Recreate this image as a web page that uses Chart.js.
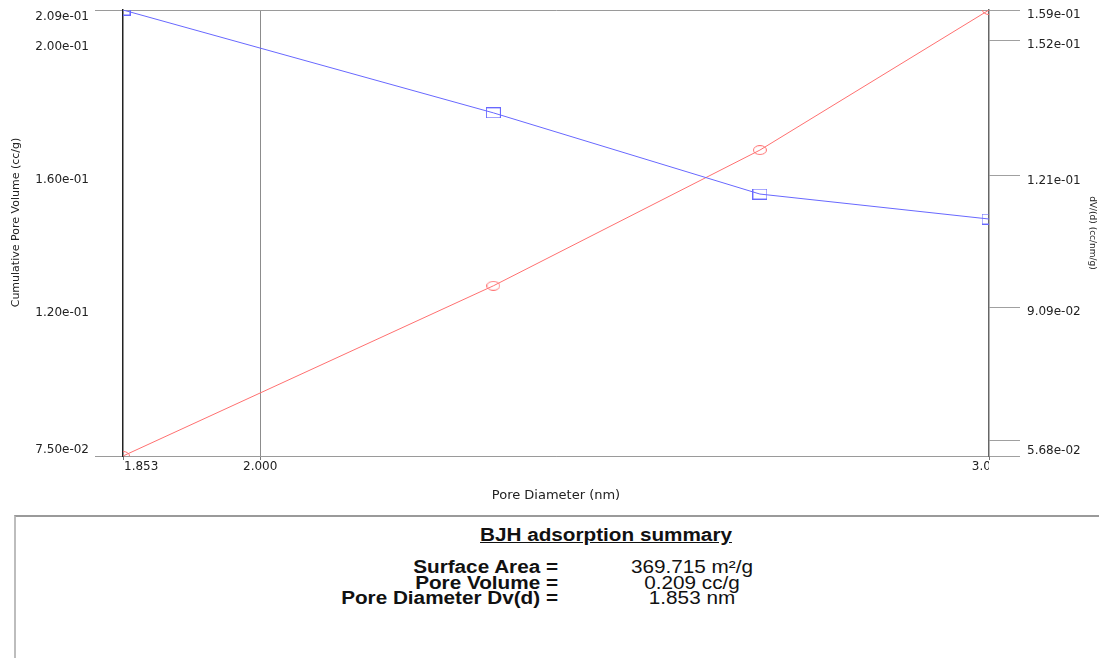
<!DOCTYPE html>
<html>
<head>
<meta charset="utf-8">
<script src="https://cdn.jsdelivr.net/npm/chart.js@4.4.0/dist/chart.umd.min.js"></script>
<style>
  html, body { margin: 0; padding: 0; background: #fff; }
  body { width: 1099px; height: 658px; position: relative; overflow: hidden; font-family: "Liberation Sans", Arial, sans-serif; }
  #chartWrap { position: absolute; left: 0; top: 0; width: 1099px; height: 510px; }
  #summary { position: absolute; left: 14px; top: 515px; width: 1083px; height: 200px;
             border-top: 2px solid #9a9a9a; border-left: 2px solid #bdbdbd; border-right: 1px solid #d0d0d0; }
  .stretch { position: absolute; white-space: nowrap; color: #111; font-size: 18px; }
  #sumTitle { left: 456px; width: 300px; top: 525px; line-height: 20px; text-align: center;
              font-weight: bold; text-decoration: underline; transform: scaleX(1.15); transform-origin: center; }
  #sumLabels { left: 258px; width: 300px; top: 560px; line-height: 15.5px; text-align: right;
               font-weight: bold; transform: scaleX(1.15); transform-origin: right; }
  #sumValues { left: 592px; width: 200px; top: 560px; line-height: 15.5px; text-align: center;
               transform: scaleX(1.15); transform-origin: center; }
</style>
</head>
<body>
<div id="chartWrap"><canvas id="bjhChart" width="1099" height="510"></canvas></div>
<div id="summary"></div>
<div id="sumTitle" class="stretch">BJH adsorption summary</div>
<div id="sumLabels" class="stretch"></div>
<div id="sumValues" class="stretch"></div>

<script>
// data
const poreDiameters = [1.853, 2.277, 2.641, 3.0];
const cumulativeVolume = [0.209, 0.1781, 0.1537, 0.1462];
const dVd = [0.0568, 0.0958, 0.1269, 0.159];

const xTicks = [1.853, 2.0, 3.0];
const xTickLabels = ['1.853', '2.000', '3.000'];
const leftTicks = [0.075, 0.12, 0.16, 0.2, 0.209];
const leftTickLabels = ['7.50e-02', '1.20e-01', '1.60e-01', '2.00e-01', '2.09e-01'];
const rightTicks = [0.0568, 0.0603, 0.0909, 0.121, 0.152, 0.159];
const rightTickLabels = ['5.68e-02', '', '9.09e-02', '1.21e-01', '1.52e-01', '1.59e-01'];

const summaryLabels = ['Surface Area =', 'Pore Volume =', 'Pore Diameter Dv(d) ='];
const summaryValues = ['369.715 m\u00b2/g', '0.209 cc/g', '1.853 nm'];

document.getElementById('sumLabels').innerHTML = summaryLabels.join('<br>');
document.getElementById('sumValues').innerHTML = summaryValues.join('<br>');

const BLUE = 'rgb(104, 104, 255)';
const RED = 'rgb(255, 112, 112)';
const FONT = "'DejaVu Sans', sans-serif";

// marker images (the original markers are a bit wider than tall)
function makeMarker(shape, color, w, h) {
    const c = document.createElement('canvas');
    c.width = w;
    c.height = h;
    const g = c.getContext('2d');
    g.strokeStyle = color;
    g.lineWidth = 1;
    if (shape === 'rect') {
        g.strokeRect(0.5, 0.5, w - 1, h - 1);
    } else {
        g.beginPath();
        g.ellipse(w / 2, h / 2, w / 2 - 0.5, h / 2 - 0.5, 0, 0, Math.PI * 2);
        g.stroke();
    }
    return c;
}
const squareMarker = makeMarker('rect', BLUE, 15, 11);
const circleMarker = makeMarker('ellipse', RED, 14, 10);

// x tick labels: first one starts at the axis, the last one is cut by the right axis
const xLabelsPlugin = {
    id: 'xLabels',
    afterDraw(chart) {
        const { ctx, chartArea } = chart;
        const xs = chart.scales.x;
        ctx.save();
        ctx.beginPath();
        ctx.rect(0, chartArea.bottom, chartArea.right, 40);
        ctx.clip();
        ctx.font = '12px ' + FONT;
        ctx.fillStyle = '#222';
        ctx.textAlign = 'left';
        ctx.textBaseline = 'middle';
        xTicks.forEach((v, i) => {
            const px = xs.getPixelForValue(v);
            const w = ctx.measureText(xTickLabels[i]).width;
            const x = Math.max(px - w / 2, chartArea.left + 1);
            ctx.fillText(xTickLabels[i], x, chartArea.bottom + 11);
        });
        ctx.restore();
    }
};

const transparent = 'rgba(0,0,0,0)';

// fixed axis widths, and no extra room kept for the end labels
function fixWidth(w) {
    return s => {
        s.width = w;
        s.paddingTop = 0;
        s.paddingBottom = 0;
    };
}

// the original prints y labels a little below their tick, except the lowest one
function shiftedLabel(labels, ticks) {
    return (v, i) => {
        const text = labels[ticks.indexOf(v)];
        return i === 0 ? [text, ''] : ['', text];
    };
}

new Chart(document.getElementById('bjhChart'), {
    type: 'line',
    data: {
        datasets: [{
            label: 'Cumulative Pore Volume',
            data: poreDiameters.map((x, i) => ({ x: x, y: cumulativeVolume[i] })),
            yAxisID: 'y',
            borderColor: BLUE,
            borderWidth: 1,
            pointStyle: squareMarker,
            pointRadius: 6,
            tension: 0,
            clip: 0
        }, {
            label: 'dV/(d)',
            data: poreDiameters.map((x, i) => ({ x: x, y: dVd[i] })),
            yAxisID: 'y2',
            borderColor: RED,
            borderWidth: 1,
            pointStyle: circleMarker,
            pointRadius: 6,
            tension: 0,
            clip: 0
        }]
    },
    options: {
        responsive: false,
        animation: false,
        layout: { padding: { top: 10, left: 0, right: 0, bottom: 0 } },
        plugins: {
            legend: { display: false },
            tooltip: { enabled: false }
        },
        scales: {
            x: {
                type: 'logarithmic',
                min: 1.853,
                max: 3.0,
                afterBuildTicks: s => { s.ticks = xTicks.map(v => ({ value: v })); },
                afterFit: s => { s.height = 54; },
                ticks: { display: false },
                grid: {
                    color: c => (c.tick && c.tick.value === 2.0) ? '#8c8c8c' : transparent,
                    tickColor: '#777',
                    tickLength: 4
                },
                border: { color: '#9a9a9a', width: 1 },
                title: {
                    display: true,
                    text: 'Pore Diameter (nm)',
                    color: '#222',
                    font: { family: FONT, size: 13 },
                    padding: { top: 0, bottom: 7 }
                }
            },
            y: {
                position: 'left',
                min: 0.075,
                max: 0.209,
                afterBuildTicks: s => { s.ticks = leftTicks.map(v => ({ value: v })); },
                afterFit: fixWidth(123),
                ticks: {
                    autoSkip: false,
                    padding: 6,
                    color: '#222',
                    font: { family: FONT, size: 12, lineHeight: 1.1 },
                    callback: shiftedLabel(leftTickLabels, leftTicks)
                },
                grid: {
                    color: c => (c.index === 0 || c.index === leftTicks.length - 1) ? '#9a9a9a' : transparent,
                    tickLength: 28
                },
                border: { color: '#222', width: 1.5 },
                title: {
                    display: true,
                    text: '      Cumulative Pore Volume (cc/g)',
                    color: '#222',
                    font: { family: FONT, size: 11 },
                    padding: { top: 10, bottom: 0 }
                }
            },
            y2: {
                position: 'right',
                min: 0.0568,
                max: 0.159,
                afterBuildTicks: s => { s.ticks = rightTicks.map(v => ({ value: v })); },
                afterFit: fixWidth(110),
                ticks: {
                    autoSkip: false,
                    padding: 7,
                    color: '#222',
                    font: { family: FONT, size: 12, lineHeight: 0.8 },
                    callback: shiftedLabel(rightTickLabels, rightTicks)
                },
                grid: {
                    drawOnChartArea: false,
                    color: '#a0a0a0',
                    tickLength: 31
                },
                border: { color: '#666', width: 1.5 },
                title: {
                    display: true,
                    text: 'dV/(d) (cc/nm/g)',
                    color: '#222',
                    font: { family: FONT, size: 9 },
                    padding: { top: 1, bottom: 0 }
                }
            }
        }
    },
    plugins: [xLabelsPlugin]
});
</script>
</body>
</html>
